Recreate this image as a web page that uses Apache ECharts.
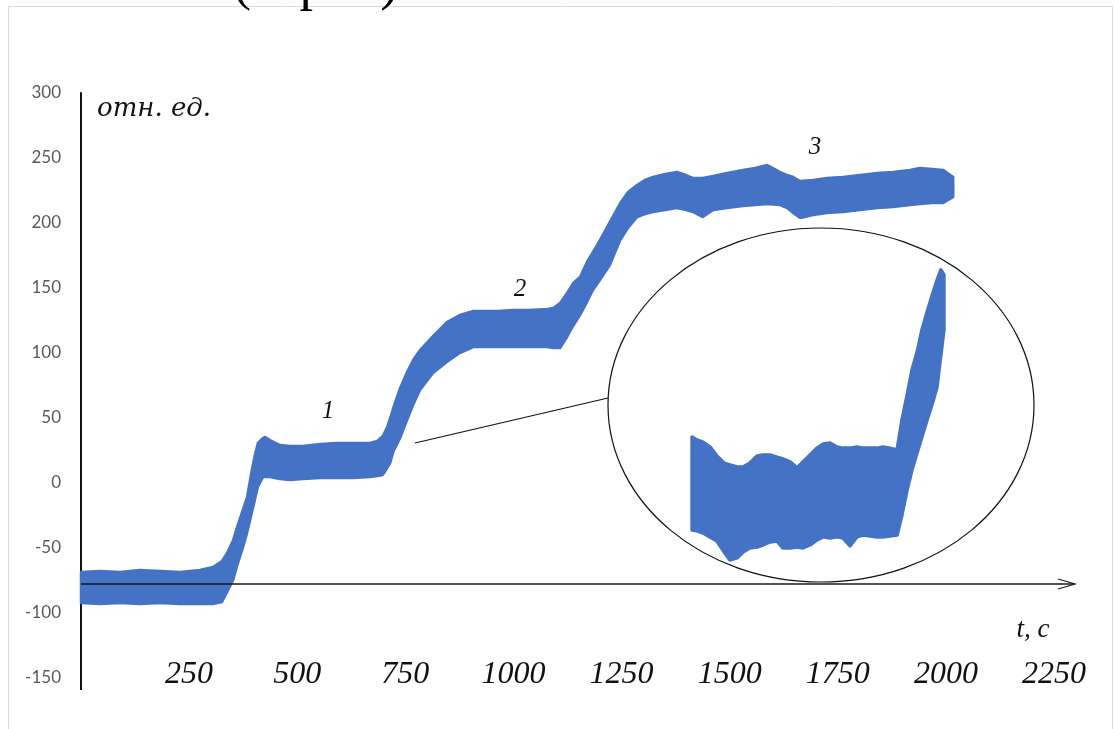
<!DOCTYPE html>
<html>
<head>
<meta charset="utf-8">
<script src="https://cdn.jsdelivr.net/npm/echarts@6/dist/echarts.min.js"></script>
<style>
html,body{margin:0;padding:0;background:#fff;}
#chart{width:1115px;height:729px;}
</style>
</head>
<body>
<div id="chart"></div>
<script>
// ---- main curve: time (s) and upper / lower envelope of the scatter band (отн. ед.)
var time = [0,44,90,136,183,229,275,305,326,338,352,361,375,384,395,402,409,421,426,437,460,483,513,553,592,629,668,685,698,708,715,722,738,754,768,784,814,846,876,907,962,999,1038,1078,1092,1108,1124,1138,1154,1170,1184,1200,1223,1247,1265,1286,1304,1323,1351,1378,1399,1415,1438,1462,1494,1531,1559,1587,1617,1633,1647,1663,1693,1725,1762,1802,1841,1878,1917,1940,1968,1994,2017];
var upper = [-68.5,-67.7,-68.5,-66.9,-67.7,-68.5,-66.9,-64.6,-60,-53.8,-43.8,-33.8,-20,-10.8,10,21.5,30.8,34.6,35.4,33,29.2,28.5,28.5,30,30.8,30.8,30.8,32.3,36.2,43.1,50,57.7,73.1,85.4,94.6,102.3,113,123.8,129.2,132.3,132.3,133,133,133.8,134.6,138.5,146.2,153.8,158.5,170,177.7,186.9,200.8,215.4,223.8,229.2,233.1,235.4,237.7,239.2,236.9,234.6,234.6,236.2,238.5,240.8,242.3,244.6,239.2,236.9,235.4,232.3,233.1,234.6,235.4,236.9,238.5,239.2,240.8,242.3,241.5,240.8,235.4];
var lower = [-92.3,-93.1,-92.3,-93.1,-92.3,-93.1,-93.1,-93.1,-91.5,-83.8,-74.6,-63.8,-49.2,-38.5,-23.1,-13.1,-3.1,4.6,4.6,4.6,3.1,2.3,3.1,3.8,3.8,3.8,4.6,5.4,6.2,11.5,15.4,23.8,34.6,48.5,60,71.5,84.6,93.1,100,104.6,104.6,104.6,104.6,104.6,103.8,103.8,112.3,120.8,129.2,139.2,148.5,156.2,167.7,186.9,196.2,204.6,206.9,208.5,210,211.5,210,208.5,204.6,210,211.5,213.1,213.8,214.6,213.8,211.5,207.7,203.8,206.2,207.7,208.5,210,211.5,212.3,213.8,214.6,215.4,215.4,220];

// ---- inset (magnified fragment), relative units 0..100
var insetX = [0.8,2.7,5.1,7.8,10.5,13.3,15.6,18.4,20.7,23.4,26.2,28.5,31.3,34,36.3,39.1,41.8,44.1,46.9,49.6,52,54.7,57.4,59.8,62.5,65.2,67.6,70.3,73,75.4,78.1,80.9,82.8,84.8,86.7,88.7,90.6,92.6,94.5,96.5,98,99.2];
var insetTop = [41,40,39.3,37.7,34.7,32.3,31.7,31,31,32.3,34.7,35,35,34.3,33.7,32.7,30.7,32.7,35,37.3,38.7,39,37.7,37.3,37.3,37.7,37.3,37.3,37.3,37.7,37.3,36.7,46.7,55,63.3,69.3,76.7,82.7,88,93.3,96.7,95];
var insetBottom = [10,9.7,9,7.7,6.3,2.7,0,0.7,2.7,4,4.3,5,6,6.3,4,4,4.3,4,5,6.7,7.7,7.3,7.7,7.3,4.7,7.7,8.3,8,7.7,7.7,8,8.3,15,23.3,30,35.7,41,46.7,51.7,57.7,68.3,76.7];

// ---- labels
var yName = 'отн. ед.';
var xName = 't, с';
var stageLabels = ['1', '2', '3'];
var topCaption = '(серия)';

var BLUE = '#4472C4';

// band polygon drawn through the axis scales (api.coord)
function bandRenderer(xs, hi, lo, lw) {
  return function (params, api) {
    if (params.dataIndex !== 0) return;
    var pts = [];
    for (var i = 0; i < xs.length; i++) pts.push(api.coord([xs[i], hi[i]]));
    for (var j = xs.length - 1; j >= 0; j--) pts.push(api.coord([xs[j], lo[j]]));
    return {
      type: 'polygon',
      shape: {points: pts},
      style: {fill: BLUE, stroke: BLUE, lineWidth: lw, lineJoin: 'round'}
    };
  };
}

var chart = echarts.init(document.getElementById('chart'), null, {renderer: 'canvas'});

var serif = 'Liberation Serif, Times New Roman, serif';

var option = {
  animation: false,
  backgroundColor: '#fff',
  grid: [
    {left: 81, right: 61, top: 93, bottom: 51},
    {left: 690, top: 260, width: 256, height: 300}
  ],
  xAxis: [
    {
      type: 'value', gridIndex: 0, min: 0, max: 2250, interval: 250,
      axisLine: {show: false}, axisTick: {show: false}, splitLine: {show: false},
      axisLabel: {
        showMinLabel: false, margin: -3, verticalAlign: 'middle',
        formatter: function (v) { return String(v); },
        fontFamily: serif, fontStyle: 'italic', fontSize: 32, color: '#111'
      }
    },
    {type: 'value', gridIndex: 1, min: 0, max: 100, show: false}
  ],
  yAxis: [
    {
      type: 'value', gridIndex: 0, min: -150, max: 300, interval: 50,
      axisLine: {show: true, lineStyle: {color: '#111', width: 2}},
      axisTick: {show: false}, splitLine: {show: false},
      axisLabel: {margin: 20, fontFamily: 'Lato', fontSize: 17, color: '#595959'}
    },
    {type: 'value', gridIndex: 1, min: 0, max: 100, show: false}
  ],
  series: [
    {
      type: 'custom', coordinateSystem: 'cartesian2d', xAxisIndex: 0, yAxisIndex: 0,
      data: [[time[0], lower[0]]], silent: true,
      renderItem: bandRenderer(time, upper, lower, 2.5)
    },
    {
      type: 'custom', coordinateSystem: 'cartesian2d', xAxisIndex: 1, yAxisIndex: 1,
      data: [[insetX[0], insetBottom[0]]], silent: true,
      renderItem: bandRenderer(insetX, insetTop, insetBottom, 3.5)
    }
  ],
  graphic: [
    {type: 'rect', z: 1, silent: true, shape: {x: 8.5, y: 6.5, width: 1104, height: 740},
      style: {fill: 'none', stroke: '#d9d9d9', lineWidth: 1}},
    {type: 'text', z: 100, silent: true,
      style: {x: 233, y: 12, text: topCaption, textVerticalAlign: 'bottom',
        fontFamily: serif, fontSize: 54, fill: '#000'}},
    {type: 'text', z: 100, silent: true,
      style: {x: 97, y: 109, text: yName, textVerticalAlign: 'middle',
        fontFamily: 'DejaVu Serif', fontStyle: 'italic', fontSize: 26, fill: '#111'}},
    {type: 'line', z: 100, silent: true, shape: {x1: 81, y1: 584, x2: 1074, y2: 584},
      style: {stroke: '#1a1a1a', lineWidth: 1.6}},
    {type: 'polyline', z: 100, silent: true, shape: {points: [[1058, 579], [1075, 584], [1058, 589]]},
      style: {stroke: '#1a1a1a', lineWidth: 1.3, fill: 'none'}},
    {type: 'line', z: 100, silent: true, shape: {x1: 81, y1: 678, x2: 81, y2: 690},
      style: {stroke: '#111', lineWidth: 2}},
    {type: 'text', z: 100, silent: true,
      style: {x: 1033, y: 630, text: xName, textAlign: 'center', textVerticalAlign: 'middle',
        fontFamily: serif, fontStyle: 'italic', fontSize: 27, fill: '#111'}},
    {type: 'text', z: 100, silent: true,
      style: {x: 328, y: 411, text: stageLabels[0], textAlign: 'center', textVerticalAlign: 'middle',
        fontFamily: serif, fontStyle: 'italic', fontSize: 25, fill: '#111'}},
    {type: 'text', z: 100, silent: true,
      style: {x: 520, y: 289, text: stageLabels[1], textAlign: 'center', textVerticalAlign: 'middle',
        fontFamily: serif, fontStyle: 'italic', fontSize: 25, fill: '#111'}},
    {type: 'text', z: 100, silent: true,
      style: {x: 815, y: 147, text: stageLabels[2], textAlign: 'center', textVerticalAlign: 'middle',
        fontFamily: serif, fontStyle: 'italic', fontSize: 25, fill: '#111'}},
    {type: 'ellipse', z: 100, silent: true, shape: {cx: 821, cy: 405, rx: 213, ry: 177},
      style: {fill: 'none', stroke: '#111', lineWidth: 1.2}},
    {type: 'line', z: 100, silent: true, shape: {x1: 415, y1: 443, x2: 608, y2: 398},
      style: {stroke: '#111', lineWidth: 1.2}}
  ]
};
chart.setOption(option);
</script>
</body>
</html>
